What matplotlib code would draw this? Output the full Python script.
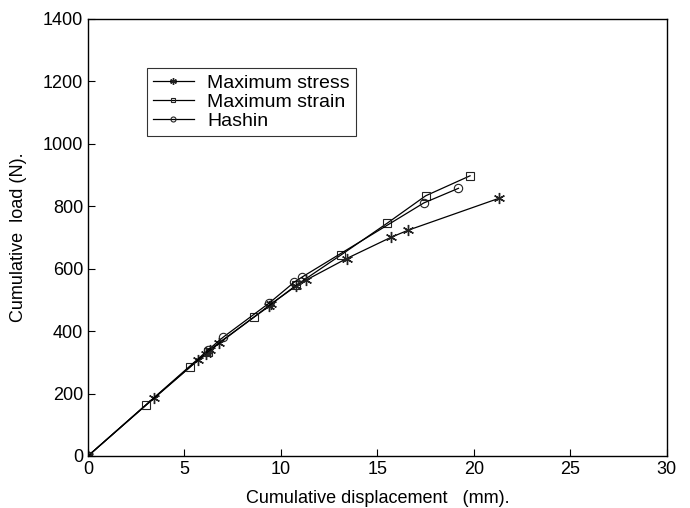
import matplotlib
matplotlib.use("Agg")
import matplotlib.pyplot as plt

plt.rcParams['font.family'] = ['Liberation Sans', 'DejaVu Sans']

# Maximum stress criterion
stress_x = [0, 3.4, 5.7, 6.1, 6.3, 6.8, 9.4, 9.5, 10.8, 11.3, 13.4, 15.7, 16.6, 21.3]
stress_y = [0, 185, 307, 328, 338, 363, 480, 487, 545, 563, 632, 700, 723, 825]

# Maximum strain criterion
strain_x = [0, 3.0, 5.3, 6.2, 8.6, 10.8, 13.1, 15.5, 17.5, 19.8]
strain_y = [0, 162, 285, 333, 445, 547, 643, 745, 833, 897]

# Hashin criterion
hashin_x = [0, 6.2, 7.0, 9.4, 10.7, 11.1, 17.4, 19.2]
hashin_y = [0, 338, 380, 490, 557, 573, 810, 857]

fig = plt.figure(figsize=(6.9, 5.08), dpi=100)
ax = fig.add_axes([0.1275, 0.1024, 0.839, 0.8608])

ax.plot(stress_x, stress_y, color='black', lw=0.9, marker=(6, 2, 0), ms=8,
        mec='#222222', mew=1.0, label='Maximum stress')
ax.plot(strain_x, strain_y, color='black', lw=0.9, marker='s', ms=6,
        mfc='none', mec='#222222', mew=0.8, label='Maximum strain')
ax.plot(hashin_x, hashin_y, color='black', lw=0.9, marker='o', ms=6,
        mfc='none', mec='#222222', mew=0.8, label='Hashin')

ax.set_xlim(0, 30)
ax.set_ylim(0, 1400)
ax.set_xticks(range(0, 31, 5))
ax.set_yticks(range(0, 1401, 200))
ax.tick_params(direction='in', length=5, labelsize=13, width=0.8)
for s in ax.spines.values():
    s.set_linewidth(1.0)

ax.set_xlabel('Cumulative displacement   (mm).', fontsize=13, labelpad=9)
ax.set_ylabel('Cumulative  load (N).', fontsize=13, labelpad=11)

leg = ax.legend(loc='upper left', bbox_to_anchor=(0.102, 0.887), fontsize=14,
                frameon=True, fancybox=False, edgecolor='black', borderpad=0.3,
                labelspacing=0.08, handlelength=2.1, handletextpad=0.7,
                borderaxespad=0, markerscale=0.6)
leg.get_frame().set_linewidth(0.8)

fig.savefig('out.png', dpi=100)
